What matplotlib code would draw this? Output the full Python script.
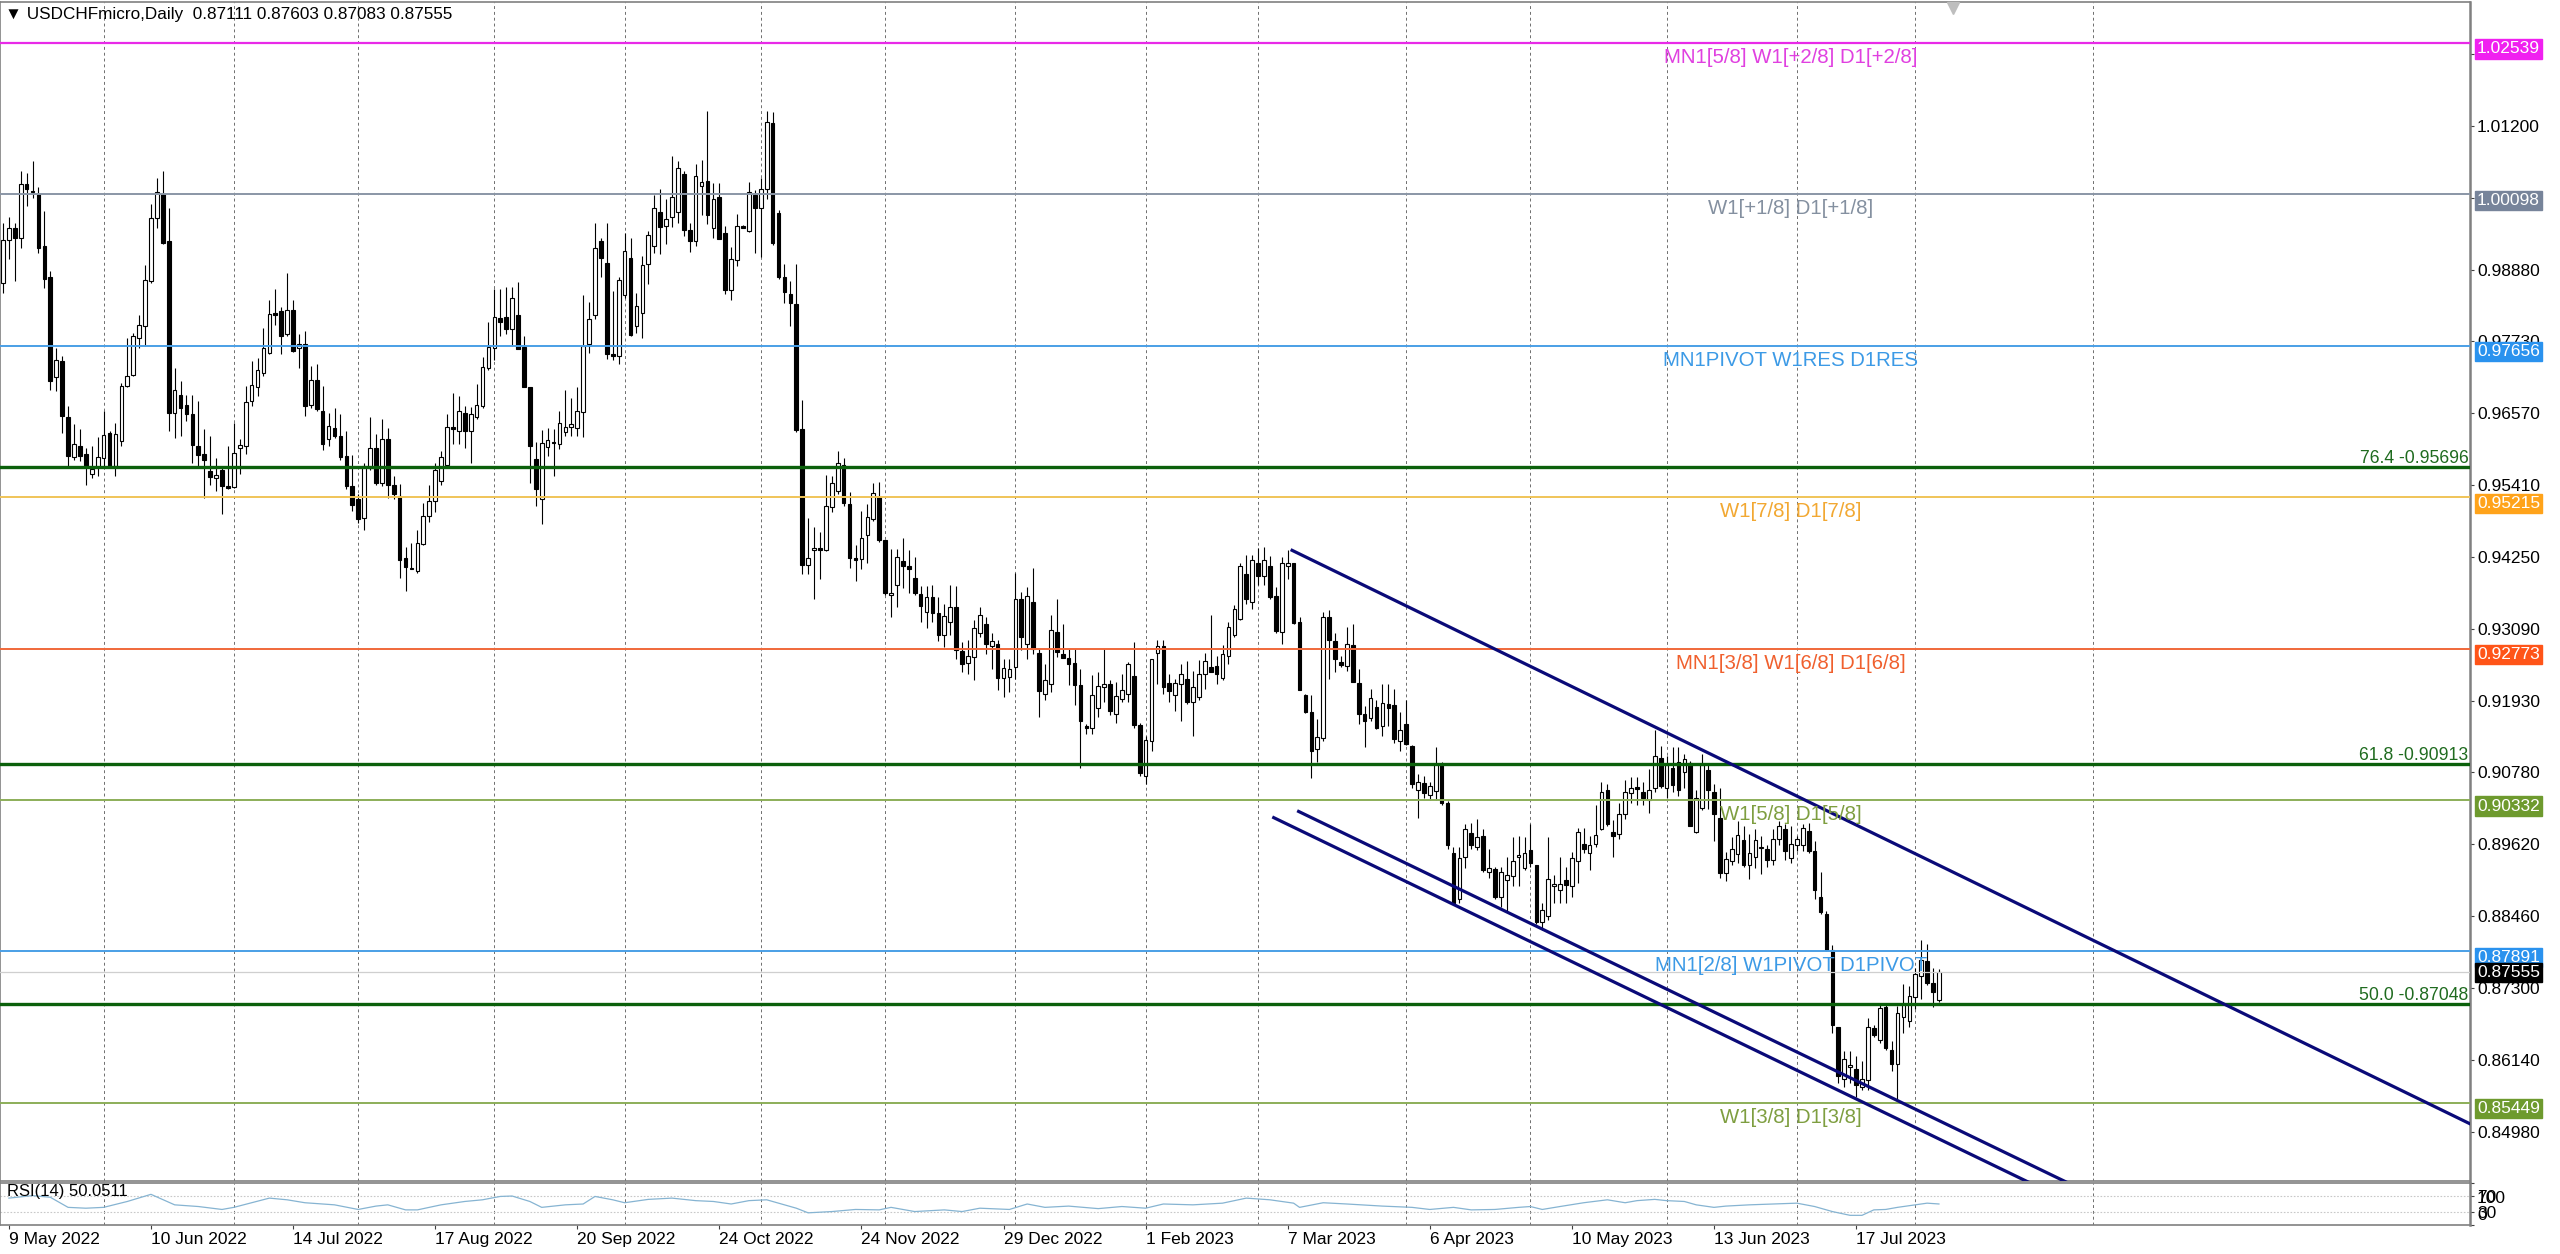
import numpy as np
import matplotlib.pyplot as plt
import matplotlib.transforms as mtransforms

plt.rcParams['font.family'] = ['Liberation Sans', 'DejaVu Sans']

# daily USDCHF candles, bar 0 = 9 May 2022 (one bar before it is still on screen)
first_bar = -1
opens = [
    0.9867, 0.9936, 0.9956, 0.9940, 1.0026, 1.0016, 1.0010, 0.9926, 0.9877, 0.9715,
    0.9741, 0.9651, 0.9586, 0.9604, 0.9591, 0.9559, 0.9570, 0.9585, 0.9625, 0.9572,
    0.9612, 0.9701, 0.9719, 0.9779, 0.9797, 0.9870, 0.9971, 1.0011, 0.9934, 0.9658,
    0.9686, 0.9670, 0.9655, 0.9604, 0.9591, 0.9563, 0.9552, 0.9566, 0.9539, 0.9538,
    0.9601, 0.9604, 0.9676, 0.9699, 0.9721, 0.9754, 0.9818, 0.9822, 0.9784, 0.9823,
    0.9762, 0.9769, 0.9670, 0.9711, 0.9661, 0.9616, 0.9633, 0.9621, 0.9588, 0.9539,
    0.9518, 0.9488, 0.9569, 0.9601, 0.9545, 0.9616, 0.9542, 0.9524, 0.9423, 0.9406,
    0.9402, 0.9446, 0.9491, 0.9516, 0.9547, 0.9574, 0.9634, 0.9629, 0.9658, 0.9628,
    0.9651, 0.9668, 0.9730, 0.9762, 0.9811, 0.9812, 0.9793, 0.9815, 0.9764, 0.9700,
    0.9583, 0.9519, 0.9602, 0.9611, 0.9607, 0.9627, 0.9635, 0.9633, 0.9659, 0.9768,
    0.9816, 0.9934, 0.9899, 0.9752, 0.9749, 0.9848, 0.9907, 0.9797, 0.9819, 0.9898,
    0.9927, 0.9982, 0.9959, 0.9973, 0.9982, 1.0042, 0.9953, 0.9934, 1.0024, 1.0032,
    0.9956, 1.0006, 0.9948, 0.9855, 0.9904, 0.9959, 0.9951, 1.0009, 0.9988, 1.0019,
    1.0125, 0.9980, 0.9876, 0.9849, 0.9833, 0.9631, 0.9412, 0.9436, 0.9439, 0.9436,
    0.9505, 0.9532, 0.9574, 0.9510, 0.9423, 0.9422, 0.9461, 0.9486, 0.9522, 0.9452,
    0.9364, 0.9380, 0.9418, 0.9410, 0.9392, 0.9366, 0.9336, 0.9360, 0.9335, 0.9300,
    0.9320, 0.9344, 0.9273, 0.9254, 0.9264, 0.9303, 0.9317, 0.9282, 0.9285, 0.9230,
    0.9231, 0.9248, 0.9357, 0.9285, 0.9353, 0.9270, 0.9205, 0.9221, 0.9305, 0.9269,
    0.9262, 0.9255, 0.9218, 0.9152, 0.9149, 0.9182, 0.9216, 0.9221, 0.9172, 0.9196,
    0.9204, 0.9234, 0.9155, 0.9072, 0.9129, 0.9270, 0.9281, 0.9222, 0.9203, 0.9220,
    0.9229, 0.9191, 0.9200, 0.9237, 0.9248, 0.9249, 0.9230, 0.9265, 0.9299, 0.9325,
    0.9397, 0.9353, 0.9416, 0.9394, 0.9411, 0.9362, 0.9304, 0.9411, 0.9415, 0.9320,
    0.9203, 0.9175, 0.9115, 0.9134, 0.9329, 0.9289, 0.9256, 0.9249, 0.9284, 0.9222,
    0.9172, 0.9165, 0.9184, 0.9153, 0.9188, 0.9187, 0.9128, 0.9156, 0.9120, 0.9049,
    0.9060, 0.9042, 0.9048, 0.9091, 0.9029, 0.8948, 0.8874, 0.8942, 0.8980, 0.8957,
    0.8976, 0.8917, 0.8922, 0.8877, 0.8905, 0.8911, 0.8941, 0.8923, 0.8953, 0.8929,
    0.8837, 0.8846, 0.8895, 0.8889, 0.8905, 0.8895, 0.8935, 0.8962, 0.8948, 0.8962,
    0.8986, 0.9050, 0.8982, 0.8979, 0.9010, 0.9045, 0.9055, 0.9047, 0.9034, 0.9053,
    0.9101, 0.9053, 0.9085, 0.9095, 0.9078, 0.9093, 0.8982, 0.9021, 0.9082, 0.9046,
    0.9005, 0.8916, 0.8935, 0.8947, 0.8969, 0.8929, 0.8942, 0.8956, 0.8955, 0.8936,
    0.8970, 0.8986, 0.8939, 0.8960, 0.8960, 0.8984, 0.8951, 0.8877, 0.8850, 0.8792,
    0.8667, 0.8584, 0.8603, 0.8599, 0.8571, 0.8582, 0.8665, 0.8646, 0.8699, 0.8630,
    0.8607, 0.8683, 0.8677, 0.8716, 0.8750, 0.8774, 0.8738, 0.87111,
]
highs = [
    0.9964, 0.9973, 0.9964, 1.0048, 1.0045, 1.0063, 1.0021, 0.9983, 0.9886, 0.9762,
    0.9749, 0.9668, 0.9640, 0.9631, 0.9601, 0.9604, 0.9618, 0.9660, 0.9628, 0.9641,
    0.9706, 0.9778, 0.9787, 0.9816, 0.9896, 0.9994, 1.0036, 1.0048, 0.9988, 0.9730,
    0.9709, 0.9687, 0.9687, 0.9676, 0.9631, 0.9620, 0.9585, 0.9572, 0.9604, 0.9641,
    0.9615, 0.9701, 0.9741, 0.9746, 0.9795, 0.9840, 0.9857, 0.9828, 0.9883, 0.9839,
    0.9784, 0.9789, 0.9733, 0.9736, 0.9701, 0.9658, 0.9666, 0.9656, 0.9629, 0.9590,
    0.9526, 0.9577, 0.9651, 0.9623, 0.9648, 0.9633, 0.9555, 0.9543, 0.9442, 0.9448,
    0.9469, 0.9512, 0.9542, 0.9577, 0.9596, 0.9656, 0.9690, 0.9684, 0.9668, 0.9667,
    0.9704, 0.9747, 0.9804, 0.9857, 0.9857, 0.9860, 0.9860, 0.9868, 0.9781, 0.9700,
    0.9610, 0.9630, 0.9633, 0.9632, 0.9660, 0.9694, 0.9682, 0.9699, 0.9848, 0.9837,
    0.9964, 0.9940, 0.9963, 0.9854, 0.9876, 0.9948, 0.9940, 0.9851, 0.9910, 0.9951,
    1.0009, 1.0019, 1.0002, 1.0071, 1.0064, 1.0048, 0.9964, 1.0059, 1.0065, 1.0144,
    1.0028, 1.0028, 0.9959, 0.9925, 0.9978, 0.9960, 1.0030, 1.0017, 1.0037, 1.0144,
    1.0142, 0.9984, 0.9898, 0.9870, 0.9898, 0.9679, 0.9488, 0.9473, 0.9466, 0.9558,
    0.9556, 0.9596, 0.9585, 0.9530, 0.9445, 0.9499, 0.9510, 0.9544, 0.9546, 0.9452,
    0.9438, 0.9438, 0.9455, 0.9436, 0.9425, 0.9378, 0.9378, 0.9380, 0.9360, 0.9350,
    0.9380, 0.9378, 0.9288, 0.9291, 0.9323, 0.9345, 0.9329, 0.9302, 0.9291, 0.9261,
    0.9261, 0.9399, 0.9369, 0.9377, 0.9407, 0.9277, 0.9253, 0.9331, 0.9358, 0.9317,
    0.9277, 0.9277, 0.9245, 0.9156, 0.9235, 0.9240, 0.9276, 0.9227, 0.9223, 0.9237,
    0.9256, 0.9288, 0.9158, 0.9137, 0.9260, 0.9291, 0.9291, 0.9236, 0.9229, 0.9252,
    0.9258, 0.9242, 0.9259, 0.9271, 0.9332, 0.9266, 0.9283, 0.9320, 0.9347, 0.9415,
    0.9428, 0.9428, 0.9439, 0.9441, 0.9426, 0.9377, 0.9425, 0.9437, 0.9415, 0.9328,
    0.9204, 0.9202, 0.9164, 0.9337, 0.9339, 0.9302, 0.9266, 0.9312, 0.9317, 0.9245,
    0.9185, 0.9212, 0.9194, 0.9221, 0.9221, 0.9212, 0.9175, 0.9194, 0.9122, 0.9075,
    0.9072, 0.9063, 0.9118, 0.9094, 0.9031, 0.8957, 0.8957, 0.8994, 0.8997, 0.9003,
    0.8986, 0.8954, 0.8926, 0.8926, 0.8942, 0.8974, 0.8976, 0.8974, 0.8994, 0.8929,
    0.8867, 0.8974, 0.8912, 0.8941, 0.8926, 0.8949, 0.8988, 0.8988, 0.8976, 0.9025,
    0.9062, 0.9059, 0.9001, 0.9029, 0.9065, 0.9071, 0.9071, 0.9062, 0.9084, 0.9146,
    0.9120, 0.9105, 0.9118, 0.9118, 0.9108, 0.9097, 0.9050, 0.9108, 0.9090, 0.9059,
    0.9053, 0.8949, 0.8974, 0.9000, 0.8991, 0.8979, 0.8986, 0.8976, 0.8961, 0.8986,
    0.9000, 0.8994, 0.8991, 0.8976, 0.8994, 0.8997, 0.8968, 0.8918, 0.8854, 0.8800,
    0.8668, 0.8629, 0.8629, 0.8620, 0.8613, 0.8682, 0.8671, 0.8704, 0.8702, 0.8645,
    0.8701, 0.8737, 0.8733, 0.8762, 0.8807, 0.8801, 0.8762, 0.87603,
]
lows = [
    0.9851, 0.9905, 0.9870, 0.9924, 0.9991, 1.0004, 0.9916, 0.9859, 0.9695, 0.9693,
    0.9625, 0.9572, 0.9582, 0.9580, 0.9542, 0.9553, 0.9555, 0.9569, 0.9569, 0.9555,
    0.9604, 0.9699, 0.9717, 0.9762, 0.9765, 0.9867, 0.9956, 0.9929, 0.9628, 0.9617,
    0.9620, 0.9644, 0.9577, 0.9569, 0.9520, 0.9542, 0.9531, 0.9494, 0.9534, 0.9537,
    0.9559, 0.9591, 0.9668, 0.9684, 0.9717, 0.9752, 0.9800, 0.9752, 0.9781, 0.9756,
    0.9730, 0.9652, 0.9666, 0.9660, 0.9598, 0.9604, 0.9617, 0.9582, 0.9534, 0.9499,
    0.9480, 0.9469, 0.9565, 0.9542, 0.9539, 0.9520, 0.9518, 0.9391, 0.9370, 0.9405,
    0.9399, 0.9445, 0.9482, 0.9498, 0.9542, 0.9572, 0.9607, 0.9607, 0.9601, 0.9577,
    0.9647, 0.9666, 0.9726, 0.9742, 0.9782, 0.9785, 0.9765, 0.9760, 0.9699, 0.9544,
    0.9508, 0.9478, 0.9588, 0.9555, 0.9599, 0.9621, 0.9621, 0.9621, 0.9619, 0.9754,
    0.9809, 0.9876, 0.9744, 0.9742, 0.9736, 0.9843, 0.9782, 0.9787, 0.9779, 0.9865,
    0.9915, 0.9913, 0.9929, 0.9958, 0.9964, 0.9942, 0.9917, 0.9926, 0.9976, 0.9962,
    0.9940, 0.9938, 0.9849, 0.9840, 0.9895, 0.9955, 0.9949, 0.9915, 0.9909, 1.0002,
    0.9928, 0.9873, 0.9834, 0.9798, 0.9627, 0.9397, 0.9397, 0.9357, 0.9389, 0.9434,
    0.9497, 0.9527, 0.9508, 0.9408, 0.9386, 0.9405, 0.9416, 0.9483, 0.9450, 0.9364,
    0.9328, 0.9345, 0.9375, 0.9367, 0.9364, 0.9320, 0.9311, 0.9320, 0.9290, 0.9280,
    0.9300, 0.9260, 0.9240, 0.9237, 0.9226, 0.9296, 0.9269, 0.9245, 0.9210, 0.9199,
    0.9207, 0.9229, 0.9275, 0.9261, 0.9269, 0.9167, 0.9194, 0.9207, 0.9264, 0.9263,
    0.9218, 0.9187, 0.9085, 0.9140, 0.9140, 0.9167, 0.9191, 0.9171, 0.9158, 0.9191,
    0.9191, 0.9149, 0.9072, 0.9059, 0.9113, 0.9221, 0.9204, 0.9191, 0.9177, 0.9161,
    0.9188, 0.9137, 0.9194, 0.9212, 0.9240, 0.9221, 0.9227, 0.9253, 0.9296, 0.9323,
    0.9350, 0.9342, 0.9380, 0.9380, 0.9358, 0.9302, 0.9285, 0.9389, 0.9317, 0.9211,
    0.9173, 0.9069, 0.9094, 0.9129, 0.9229, 0.9240, 0.9248, 0.9242, 0.9223, 0.9156,
    0.9118, 0.9161, 0.9148, 0.9137, 0.9153, 0.9126, 0.9113, 0.9122, 0.9053, 0.9005,
    0.9037, 0.9034, 0.9034, 0.9026, 0.8955, 0.8864, 0.8867, 0.8923, 0.8954, 0.8953,
    0.8917, 0.8908, 0.8874, 0.8861, 0.8852, 0.8895, 0.8895, 0.8920, 0.8926, 0.8834,
    0.8824, 0.8840, 0.8867, 0.8867, 0.8868, 0.8877, 0.8900, 0.8948, 0.8920, 0.8957,
    0.8985, 0.8991, 0.8942, 0.8971, 0.9002, 0.9028, 0.9025, 0.9025, 0.9013, 0.9047,
    0.9053, 0.9037, 0.9047, 0.9040, 0.9053, 0.8991, 0.8980, 0.9017, 0.9019, 0.8967,
    0.8908, 0.8903, 0.8929, 0.8932, 0.8926, 0.8906, 0.8924, 0.8914, 0.8926, 0.8929,
    0.8960, 0.8937, 0.8932, 0.8951, 0.8951, 0.8948, 0.8874, 0.8849, 0.8790, 0.8658,
    0.8577, 0.8571, 0.8577, 0.8555, 0.8565, 0.8565, 0.8651, 0.8642, 0.8630, 0.8596,
    0.8552, 0.8657, 0.8667, 0.8697, 0.8713, 0.8735, 0.8700, 0.87083,
]
closes = [
    0.9937, 0.9956, 0.9940, 1.0026, 1.0018, 1.0014, 0.9924, 0.9873, 0.9709, 0.9742,
    0.9652, 0.9588, 0.9607, 0.9588, 0.9570, 0.9567, 0.9586, 0.9622, 0.9570, 0.9624,
    0.9701, 0.9717, 0.9781, 0.9799, 0.9871, 0.9971, 1.0013, 0.9932, 0.9658, 0.9694,
    0.9666, 0.9655, 0.9605, 0.9589, 0.9582, 0.9554, 0.9558, 0.9539, 0.9537, 0.9593,
    0.9605, 0.9675, 0.9702, 0.9726, 0.9762, 0.9817, 0.9816, 0.9781, 0.9823, 0.9757,
    0.9769, 0.9668, 0.9710, 0.9663, 0.9608, 0.9636, 0.9621, 0.9586, 0.9539, 0.9509,
    0.9487, 0.9572, 0.9601, 0.9545, 0.9616, 0.9542, 0.9527, 0.9421, 0.9409, 0.9408,
    0.9448, 0.9491, 0.9516, 0.9565, 0.9586, 0.9634, 0.9632, 0.9660, 0.9628, 0.9655,
    0.9671, 0.9731, 0.9764, 0.9812, 0.9804, 0.9793, 0.9842, 0.9761, 0.9700, 0.9604,
    0.9534, 0.9609, 0.9613, 0.9609, 0.9641, 0.9635, 0.9640, 0.9660, 0.9765, 0.9809,
    0.9924, 0.9908, 0.9753, 0.9750, 0.9871, 0.9919, 0.9783, 0.9830, 0.9896, 0.9945,
    0.9988, 0.9957, 0.9970, 1.0006, 1.0053, 0.9952, 0.9934, 1.0039, 1.0030, 0.9977,
    1.0003, 0.9938, 0.9855, 0.9905, 0.9959, 0.9956, 1.0014, 0.9988, 1.0019, 1.0126,
    0.9931, 0.9876, 0.9853, 0.9834, 0.9630, 0.9412, 0.9423, 0.9439, 0.9437, 0.9508,
    0.9544, 0.9576, 0.9513, 0.9423, 0.9421, 0.9456, 0.9489, 0.9528, 0.9452, 0.9367,
    0.9367, 0.9425, 0.9410, 0.9405, 0.9367, 0.9346, 0.9361, 0.9335, 0.9300, 0.9330,
    0.9344, 0.9275, 0.9253, 0.9265, 0.9310, 0.9332, 0.9285, 0.9289, 0.9230, 0.9246,
    0.9245, 0.9357, 0.9296, 0.9363, 0.9277, 0.9209, 0.9227, 0.9308, 0.9272, 0.9263,
    0.9253, 0.9218, 0.9161, 0.9150, 0.9202, 0.9217, 0.9221, 0.9177, 0.9201, 0.9210,
    0.9252, 0.9155, 0.9077, 0.9130, 0.9260, 0.9281, 0.9216, 0.9209, 0.9222, 0.9236,
    0.9191, 0.9216, 0.9236, 0.9257, 0.9240, 0.9236, 0.9269, 0.9312, 0.9341, 0.9411,
    0.9357, 0.9421, 0.9394, 0.9421, 0.9361, 0.9306, 0.9415, 0.9415, 0.9318, 0.9211,
    0.9175, 0.9113, 0.9135, 0.9329, 0.9291, 0.9261, 0.9251, 0.9285, 0.9223, 0.9172,
    0.9161, 0.9198, 0.9150, 0.9189, 0.9182, 0.9131, 0.9146, 0.9123, 0.9059, 0.9063,
    0.9045, 0.9056, 0.9091, 0.9029, 0.8960, 0.8867, 0.8939, 0.8986, 0.8961, 0.8974,
    0.8920, 0.8923, 0.8877, 0.8918, 0.8912, 0.8935, 0.8944, 0.8948, 0.8931, 0.8837,
    0.8856, 0.8906, 0.8898, 0.8898, 0.8897, 0.8939, 0.8982, 0.8954, 0.8960, 0.8977,
    0.9047, 0.8994, 0.8976, 0.9011, 0.9047, 0.9053, 0.9051, 0.9037, 0.9050, 0.9104,
    0.9056, 0.9090, 0.9058, 0.9050, 0.9099, 0.8991, 0.9036, 0.9090, 0.9050, 0.9011,
    0.8916, 0.8938, 0.8955, 0.8977, 0.8929, 0.8948, 0.8969, 0.8958, 0.8937, 0.8970,
    0.8991, 0.8951, 0.8963, 0.8971, 0.8988, 0.8951, 0.8889, 0.8852, 0.8792, 0.8670,
    0.8589, 0.8615, 0.8606, 0.8574, 0.8583, 0.8667, 0.8654, 0.8698, 0.8633, 0.8608,
    0.8690, 0.8704, 0.8718, 0.8753, 0.8775, 0.8738, 0.8724, 0.87555,
]

# time axis: a label every 24 bars, dotted separators at month starts
date_pos = [0, 24, 48, 72, 96, 120, 144, 168, 192, 216, 240, 264, 288, 312]
date_labels = ['9 May 2022', '10 Jun 2022', '14 Jul 2022', '17 Aug 2022', '20 Sep 2022',
               '24 Oct 2022', '24 Nov 2022', '29 Dec 2022', '1 Feb 2023', '7 Mar 2023',
               '6 Apr 2023', '10 May 2023', '13 Jun 2023', '17 Jul 2023']
month_starts = [16, 38, 59, 82, 104, 127, 148, 170, 192, 211, 236, 257, 280, 302, 322, 352]

price_ticks = [1.0236, 1.0120, 1.0004, 0.9888, 0.9773, 0.9657, 0.9541, 0.9425,
               0.9309, 0.9193, 0.9078, 0.8962, 0.8846, 0.8730, 0.8614, 0.8498]

# Murrey math levels
mm_prices = [1.02539, 1.00098, 0.97656, 0.95215, 0.92773, 0.90332, 0.87891, 0.85449]
mm_labels = ['MN1[5/8] W1[+2/8] D1[+2/8]', 'W1[+1/8] D1[+1/8]', 'MN1PIVOT W1RES D1RES',
             'W1[7/8] D1[7/8]', 'MN1[3/8] W1[6/8] D1[6/8]', 'W1[5/8] D1[5/8]',
             'MN1[2/8] W1PIVOT D1PIVOT', 'W1[3/8] D1[3/8]']
mm_line_colors = ['#E82AE8', '#8A96A6', '#4A9FE6', '#F0C458', '#F0683A', '#8CAE58', '#4A9FE6', '#8CAE58']
mm_text_colors = ['#E040E0', '#8490A0', '#3C9AE6', '#F2A832', '#F0602E', '#7E9E40', '#3C9AE6', '#7E9E40']
mm_box_colors = ['#F020F0', '#77849A', '#2A92EE', '#FFA31A', '#FF5418', '#6E9A2E', '#2A92EE', '#6E9A2E']

# fibonacci levels
fib_prices = [0.95696, 0.90913, 0.87048]
fib_labels = ['76.4 -0.95696', '61.8 -0.90913', '50.0 -0.87048']

last_price = 0.87555

# channel trend lines, two anchors each (bar, price)
upper_x = [216.5, 278.9]
upper_y = [0.9437, 0.9147]
lower1_x = [213.4, 340.5]
lower1_y = [0.9006, 0.8420]
lower2_x = [217.6, 345.4]
lower2_y = [0.9016, 0.8427]

# RSI(14)
rsi_x = [0, 4, 7, 10, 13, 16, 20, 24, 28, 32, 36, 38, 44, 47, 50, 55, 59, 62, 64, 67,
         69, 73, 77, 80, 83, 85, 88, 90, 94, 97, 99, 102, 104, 108, 112, 116, 119, 122, 125, 128,
         131, 133, 135, 139, 143, 147, 149, 153, 158, 161, 164, 169, 172, 175, 179, 184, 188, 192, 195, 200,
         205, 209, 213, 217, 218, 222, 226, 232, 237, 240, 244, 247, 251, 255, 257, 259, 262, 266, 270, 273,
         275, 278, 280, 283, 285, 288, 290, 294, 298, 302, 305, 308, 311, 313, 315, 317, 319, 322, 324, 326]
rsi_y = [64, 70, 66, 42, 40, 42, 56, 73, 48, 44, 37, 42, 64, 60, 53, 48, 37, 45, 48, 36,
         36, 48, 56, 60, 68, 69, 56, 42, 48, 50, 68, 60, 53, 61, 64, 58, 56, 50, 58, 60,
         48, 40, 29, 32, 37, 36, 42, 32, 36, 32, 40, 37, 50, 42, 45, 39, 44, 40, 50, 48,
         52, 64, 60, 52, 42, 53, 50, 45, 42, 37, 42, 36, 37, 42, 44, 37, 44, 53, 60, 53,
         58, 61, 58, 56, 48, 42, 45, 48, 50, 52, 44, 32, 23, 23, 36, 37, 42, 48, 52, 50.05]
rsi_ticks = [100, 70, 30, 0]

n = min(len(opens), len(highs), len(lows), len(closes))
x = np.arange(n) + first_bar
o = np.array(opens[:n])
h = np.array(highs[:n])
lo = np.array(lows[:n])
c = np.array(closes[:n])

W, H = 2560, 1254
xmin, xmax = -1.5, 415.7
ymin, ymax = 0.8419, 1.0320
frame = '#808080'
fs = 12.5

fig = plt.figure(figsize=(W / 100, H / 100), dpi=100)
fig.patch.set_facecolor('white')
ax = fig.add_axes([0, 1 - 1181 / H, 2470 / W, 1179 / H])
axr = fig.add_axes([0, 1 - 1225 / H, 2470 / W, 42 / H])

for a in (ax, axr):
    a.set_xlim(xmin, xmax)
    for s in a.spines.values():
        s.set_color(frame)
        s.set_linewidth(1.2)
    a.spines['right'].set_linewidth(1.8)
    for m in month_starts:
        a.axvline(m, color='#6E6E6E', lw=0.7, ls=(0, (3, 3)), zorder=0.5)

# candles
up = c >= o
body = np.maximum(np.abs(c - o), 0.00004)
ax.vlines(x, lo, h, color='black', lw=0.8, zorder=2)
ax.bar(x[up], body[up], bottom=o[up], width=0.62, color='white', edgecolor='black', lw=0.8, zorder=2.5)
ax.bar(x[~up], body[~up], bottom=c[~up], width=0.62, color='black', edgecolor='black', lw=0.8, zorder=2.5)

ax.set_ylim(ymin, ymax)
ax.set_xticks([])
ax.yaxis.tick_right()
ax.set_yticks(price_ticks)
ax.set_yticklabels([f'{p:.5f}' for p in price_ticks])
ax.tick_params(axis='y', length=3, pad=2, labelsize=fs, color='#404040')

lab_tr = mtransforms.blended_transform_factory(ax.transAxes, ax.transData)

# Murrey lines, their labels and price boxes
for p, t, lc, tc, bc in zip(mm_prices, mm_labels, mm_line_colors, mm_text_colors, mm_box_colors):
    ax.axhline(p, color=lc, lw=1.6 if p == mm_prices[0] else 1.4, zorder=3)
    ax.annotate(t, xy=(301, p), xytext=(0, -3.5), textcoords='offset points',
                ha='center', va='top', color=tc, fontsize=14.7, zorder=5)
    ax.annotate(f'{p:.5f}', xy=(1, p), xycoords=lab_tr, xytext=(5, -4.3),
                textcoords='offset points', ha='left', va='center', color='white',
                fontsize=fs, annotation_clip=False, zorder=6,
                bbox=dict(boxstyle='square,pad=0.12', fc=bc, ec=bc))

# fibonacci lines
for p, t in zip(fib_prices, fib_labels):
    ax.axhline(p, color='#0B600B', lw=2.4, zorder=3)
    ax.annotate(t, xy=(1, p), xycoords=lab_tr, xytext=(-1, 3), textcoords='offset points',
                ha='right', va='baseline', color='#1F6B1F', fontsize=12.7, zorder=5)

# current price
ax.axhline(last_price, color='#CFCFCF', lw=0.9, zorder=2.8)
ax.annotate(f'{last_price:.5f}', xy=(1, last_price), xycoords=lab_tr, xytext=(5, 0),
            textcoords='offset points', ha='left', va='center', color='white', fontsize=fs,
            annotation_clip=False, zorder=7,
            bbox=dict(boxstyle='square,pad=0.12', fc='black', ec='black'))

# trend channel (rays running off the chart)
for xs, ys in ((upper_x, upper_y), (lower1_x, lower1_y), (lower2_x, lower2_y)):
    k = (ys[1] - ys[0]) / (xs[1] - xs[0])
    ax.plot([xs[0], xmax + 5], [ys[0], ys[0] + k * (xmax + 5 - xs[0])],
            color='#0A0A78', lw=2.3, zorder=4, solid_capstyle='butt')

# chart shift marker
shift_tr = mtransforms.blended_transform_factory(ax.transData, ax.transAxes)
ax.plot([328.4], [0.995], marker='v', ms=9, color='#BEBEBE', transform=shift_tr,
        clip_on=False, zorder=6)

# header
fig.text(5 / W, 1 - 14 / H, '\u25bc USDCHFmicro,Daily  0.87111 0.87603 0.87083 0.87555',
         fontsize=12.3, va='center', ha='left', color='black')

# RSI window
axr.plot(rsi_x, rsi_y, color='#86B4D2', lw=0.9, zorder=2)
for lvl in (70, 30):
    axr.axhline(lvl, color='#C8C8C8', lw=0.8, ls=(0, (1.5, 1.5)), zorder=1)
axr.set_ylim(0, 100)
axr.yaxis.tick_right()
axr.set_yticks(rsi_ticks)
axr.set_yticklabels([str(v) for v in rsi_ticks])
axr.tick_params(axis='y', length=3, pad=2, labelsize=fs, color='#404040')
# the terminal keeps the end labels inside the small window, so they sit on top of 70 / 30
for lbl, v in zip(axr.get_yticklabels(), rsi_ticks):
    if v == 100:
        lbl.set_transform(lbl.get_transform() + mtransforms.ScaledTranslation(0, -10 / 72, fig.dpi_scale_trans))
    elif v == 0:
        lbl.set_transform(lbl.get_transform() + mtransforms.ScaledTranslation(0, 8 / 72, fig.dpi_scale_trans))
axr.text(0.003, 0.79, 'RSI(14) 50.0511', transform=axr.transAxes, fontsize=12,
         va='center', ha='left', color='black', zorder=5)

axr.set_xticks(date_pos)
axr.set_xticklabels(date_labels)
axr.tick_params(axis='x', length=3, pad=2, labelsize=fs, color='#404040')
for lbl in axr.get_xticklabels():
    lbl.set_horizontalalignment('left')

fig.savefig('out.png', dpi=100)
